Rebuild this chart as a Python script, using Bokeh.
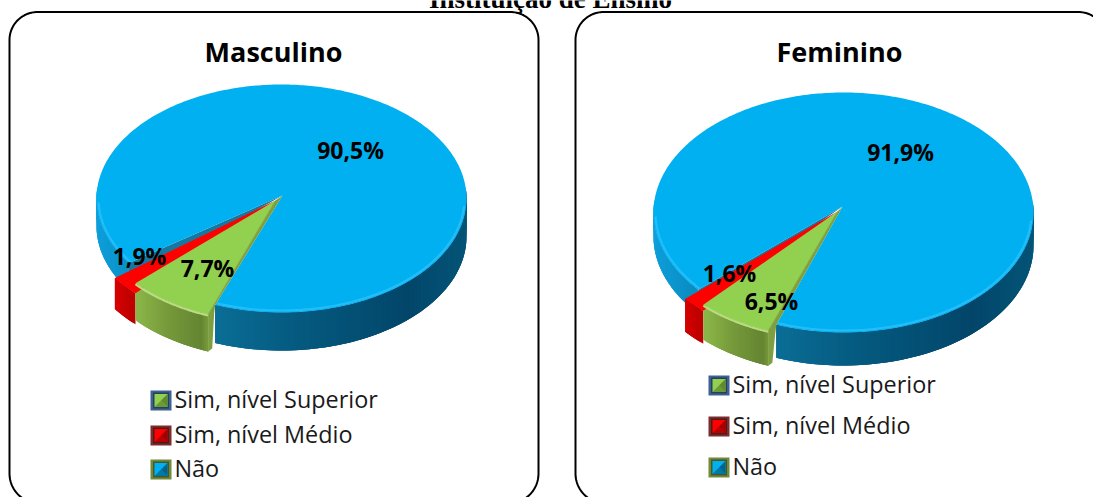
import numpy as np
from bokeh.embed import file_html
from bokeh.resources import INLINE
from bokeh.plotting import figure
from bokeh.models import Range1d
from bokeh.core.properties import value

chart_title = "Instituição de Ensino"
pie_titles = ["Masculino", "Feminino"]
categories = ["Sim, nível Superior", "Sim, nível Médio", "Não"]
masculino = [90.5, 1.9, 7.7]
feminino = [91.9, 1.6, 6.5]
value_labels_m = ["90,5%", "1,9%", "7,7%"]
value_labels_f = ["91,9%", "1,6%", "6,5%"]

p = figure(width=1093, height=497, output_backend="svg", toolbar_location=None,
           x_range=Range1d(0, 1093), y_range=Range1d(497, 0), min_border=0,
           x_axis_type=None, y_axis_type=None, outline_line_color=None)
p.margin = (0, 0, 0, 0)
p.grid.visible = False

BODY = "Open Sans"

def mix(stops, f):
    f = min(max(f, 0), 1)
    xs = [s[0] for s in stops]
    rgb = [np.interp(f, xs, [int(s[1][i:i+2], 16) for s in stops]) for i in (1, 3, 5)]
    return "#%02x%02x%02x" % tuple(int(round(v)) for v in rgb)

BLUE_WALL = [(0, "#0f9fdc"), (.1, "#0a8fc4"), (.32, "#0b6f97"), (.55, "#055a80"), (.85, "#03466a"), (1, "#045578")]
GREEN_WALL = [(0, "#8ab548"), (.4, "#76993a"), (.85, "#648532"), (1, "#86a843")]
RED_WALL = [(0, "#dc0000"), (1, "#bc0000")]

def rim(L, t, off=(0, 0)):
    return L["cx"] + off[0] + L["rx"] * np.cos(t), L["cy"] + off[1] + L["ry"] * np.sin(t)

def wall(L, t0, t1, depth, off, stops, span):
    ts = np.radians(np.linspace(t0, t1, max(int(abs(t1 - t0) * 1.5), 4)))
    xs, ys, cs = [], [], []
    n = len(ts)
    for i in range(n - 1):
        a, b = ts[i], ts[min(i + 3, n - 1)]
        xa, ya = rim(L, a, off)
        xb, yb = rim(L, b, off)
        xm, _ = rim(L, (ts[i] + ts[i + 1]) / 2, off)
        xs.append([xa, xb, xb, xa])
        ys.append([ya, yb, yb + depth, ya + depth])
        cs.append(mix(stops, (xm - span[0]) / (span[1] - span[0])))
    order = list(range(n - 1))[::-1]
    p.patches([xs[i] for i in order], [ys[i] for i in order], fill_color=[cs[i] for i in order], line_color=None)

def pie(L, vals):
    sup, med, nao = vals
    t_g0 = L["start"]
    t_g1 = t_g0 + nao * 3.6
    t_r1 = t_g1 + med * 3.6
    span = (L["cx"] - L["rx"], L["cx"] + L["rx"])
    wall(L, -6, t_g0, L["d_b"], (0, 0), BLUE_WALL, span)
    wall(L, t_r1, 186, L["d_b"] * 0.72, (0, 0), BLUE_WALL, span)
    ax, ay = L["cx"] + L["a_b"][0], L["cy"] + L["a_b"][1]
    ex, ey = rim(L, np.radians(t_r1))
    p.patch([ax, ex, ex], [ay, ey, ey + L["d_b"] * 0.5], fill_color="#17789f", line_color=None)
    ts = np.radians(np.linspace(t_r1, t_g0 + 360, 420))
    tx, ty = rim(L, ts)
    p.patch(np.r_[ax, tx], np.r_[ay, ty], fill_color="#00b0f0", line_color=None)
    for a, b in ((4, t_g0), (t_r1, 178)):
        bt = np.radians(np.linspace(a, b, 120))
        p.line(L["cx"] + (L["rx"] - 2) * np.cos(bt), L["cy"] + (L["ry"] - 2) * np.sin(bt),
               line_color="#2cc2fb", line_width=2.2, line_alpha=0.8)
    g0x, g0y = rim(L, np.radians(t_g0), L["off_g"])
    g1x, g1y = rim(L, np.radians(t_g1), L["off_g"])
    # the red rim runs on until it meets the green slice's corner, so no gap shows
    t_rs = np.degrees(np.arccos((g1x - L["cx"] - L["off_r"][0]) / L["rx"]))
    rts = np.radians(np.linspace(t_rs, t_r1, 16))
    rx_, ry_ = rim(L, rts, L["off_r"])
    wall(L, t_rs, t_r1, L["d_r"], L["off_r"], RED_WALL, (rx_[-1], rx_[0]))
    gax, gay = L["cx"] + L["a_g"][0], L["cy"] + L["a_g"][1]
    bx, by = rim(L, np.radians(t_g0))
    p.patch([gax, ax, bx, bx - 1, g0x + 4, g0x, g0x],
            [gay, ay, by, by + 8, g0y + L["d_g"] - 3, g0y + L["d_g"], g0y],
            fill_color="#7e9f3f", line_color=None)
    wall(L, t_g1, t_g0, L["d_g"], L["off_g"], GREEN_WALL, (g1x, g0x))
    p.patch(np.r_[gax, rx_], np.r_[gay, ry_], fill_color="#ff0000", line_color=None)
    gts = np.radians(np.linspace(t_g0, t_g1, 50))
    gx_, gy_ = rim(L, gts, L["off_g"])
    p.patch(np.r_[gax, gx_], np.r_[gay, gy_], fill_color="#92d050", line_color=None)
    p.line(gx_, gy_ + 1, line_color="#b9dc80", line_width=2.2)
    p.line([gax, g0x], [gay, g0y], line_color="#86a843", line_width=1)
    for (lx, ly), s in zip(L["label_pos"], L["labels"]):
        p.text([lx], [ly], text=[s], text_font=value(BODY), text_font_style="bold",
               text_font_size="23px", text_align="center", text_baseline="middle", text_color="#000000")
    p.text([L["title_x"]], [50.5], text=[L["title"]], text_font=value(BODY), text_font_style="bold",
           text_font_size="27px", text_align="center", text_baseline="middle", text_color="#000000")

def panel(x0, x1, y0, y1, r_top, r_bot):
    def arc(cx, cy, r, a, b):
        t = np.radians(np.linspace(a, b, 30))
        return cx + r * np.cos(t), cy + r * np.sin(t)
    segs = [arc(x0 + r_top, y0 + r_top, r_top, 180, 270), arc(x1 - r_top, y0 + r_top, r_top, 270, 360),
            arc(x1 - r_bot, y1 - r_bot, r_bot, 0, 90), arc(x0 + r_bot, y1 - r_bot, r_bot, 90, 180)]
    xs = np.concatenate([s[0] for s in segs] + [segs[0][0][:1]])
    ys = np.concatenate([s[1] for s in segs] + [segs[0][1][:1]])
    p.line(xs, ys, line_color="#000000", line_width=2)

panel(9, 538, 11.5, 503, 28, 30)
panel(575, 1106, 11.5, 503, 28, 30)

p.text([550], [-2], text=[chart_title], text_font=value("Liberation Serif"), text_font_style="bold",
       text_font_size="27px", text_align="center", text_baseline="alphabetic", text_color="#000000")

pie({"cx": 281, "cy": 198, "rx": 185, "ry": 114, "start": 111, "d_b": 38, "d_g": 37, "d_r": 31,
     "a_b": (1, -3), "a_g": (-6, 2), "off_g": (-7, 9.5), "off_r": (-14, 15),
     "label_pos": [(350, 149.5), (139, 255.5), (207, 267.5)], "labels": value_labels_m,
     "title": pie_titles[0], "title_x": 273}, masculino)
pie({"cx": 843, "cy": 212, "rx": 190, "ry": 120, "start": 110.7, "d_b": 33, "d_g": 35, "d_r": 33,
     "a_b": (-1, -6), "a_g": (-6, -1), "off_g": (-8, 6), "off_r": (-13, 9),
     "label_pos": [(900, 151.5), (729, 272.5), (771, 300.5)], "labels": value_labels_f,
     "title": pie_titles[1], "title_x": 839}, feminino)

swatch_style = [("#3d6190", "#27405f", "#92d050", "#5f8a2d"),
                ("#7c2c2c", "#4f1a1a", "#ff0000", "#a00000"),
                ("#6f8a3a", "#46582a", "#00b0f0", "#00658a")]

def legend(x, ys):
    for cat, yc, (bc, ec, ic, dc) in zip(categories, ys, swatch_style):
        cx = x + 10.5
        p.rect([cx], [yc], width=21, height=20, fill_color=bc, line_color=None)
        p.rect([cx], [yc], width=16, height=16, fill_color=ec, line_color=None)
        p.rect([cx], [yc], width=13, height=13, fill_color=ic, line_color=None)
        p.patch([cx + 6.5, cx + 6.5, cx], [yc - 6.5, yc + 6.5, yc], fill_color=dc, line_color=None)
        p.patch([cx - 6.5, cx + 6.5, cx], [yc + 6.5, yc + 6.5, yc], fill_color=dc, fill_alpha=0.75, line_color=None)
        p.text([x + 24], [yc - 1.5], text=[cat], text_font=value(BODY), text_font_size="23.4px",
               text_align="left", text_baseline="middle", text_color="#1a1a1a")

legend(150, [400, 435, 469])
legend(708, [385, 426, 467])

open("out.html", "w").write(file_html(p, INLINE))
